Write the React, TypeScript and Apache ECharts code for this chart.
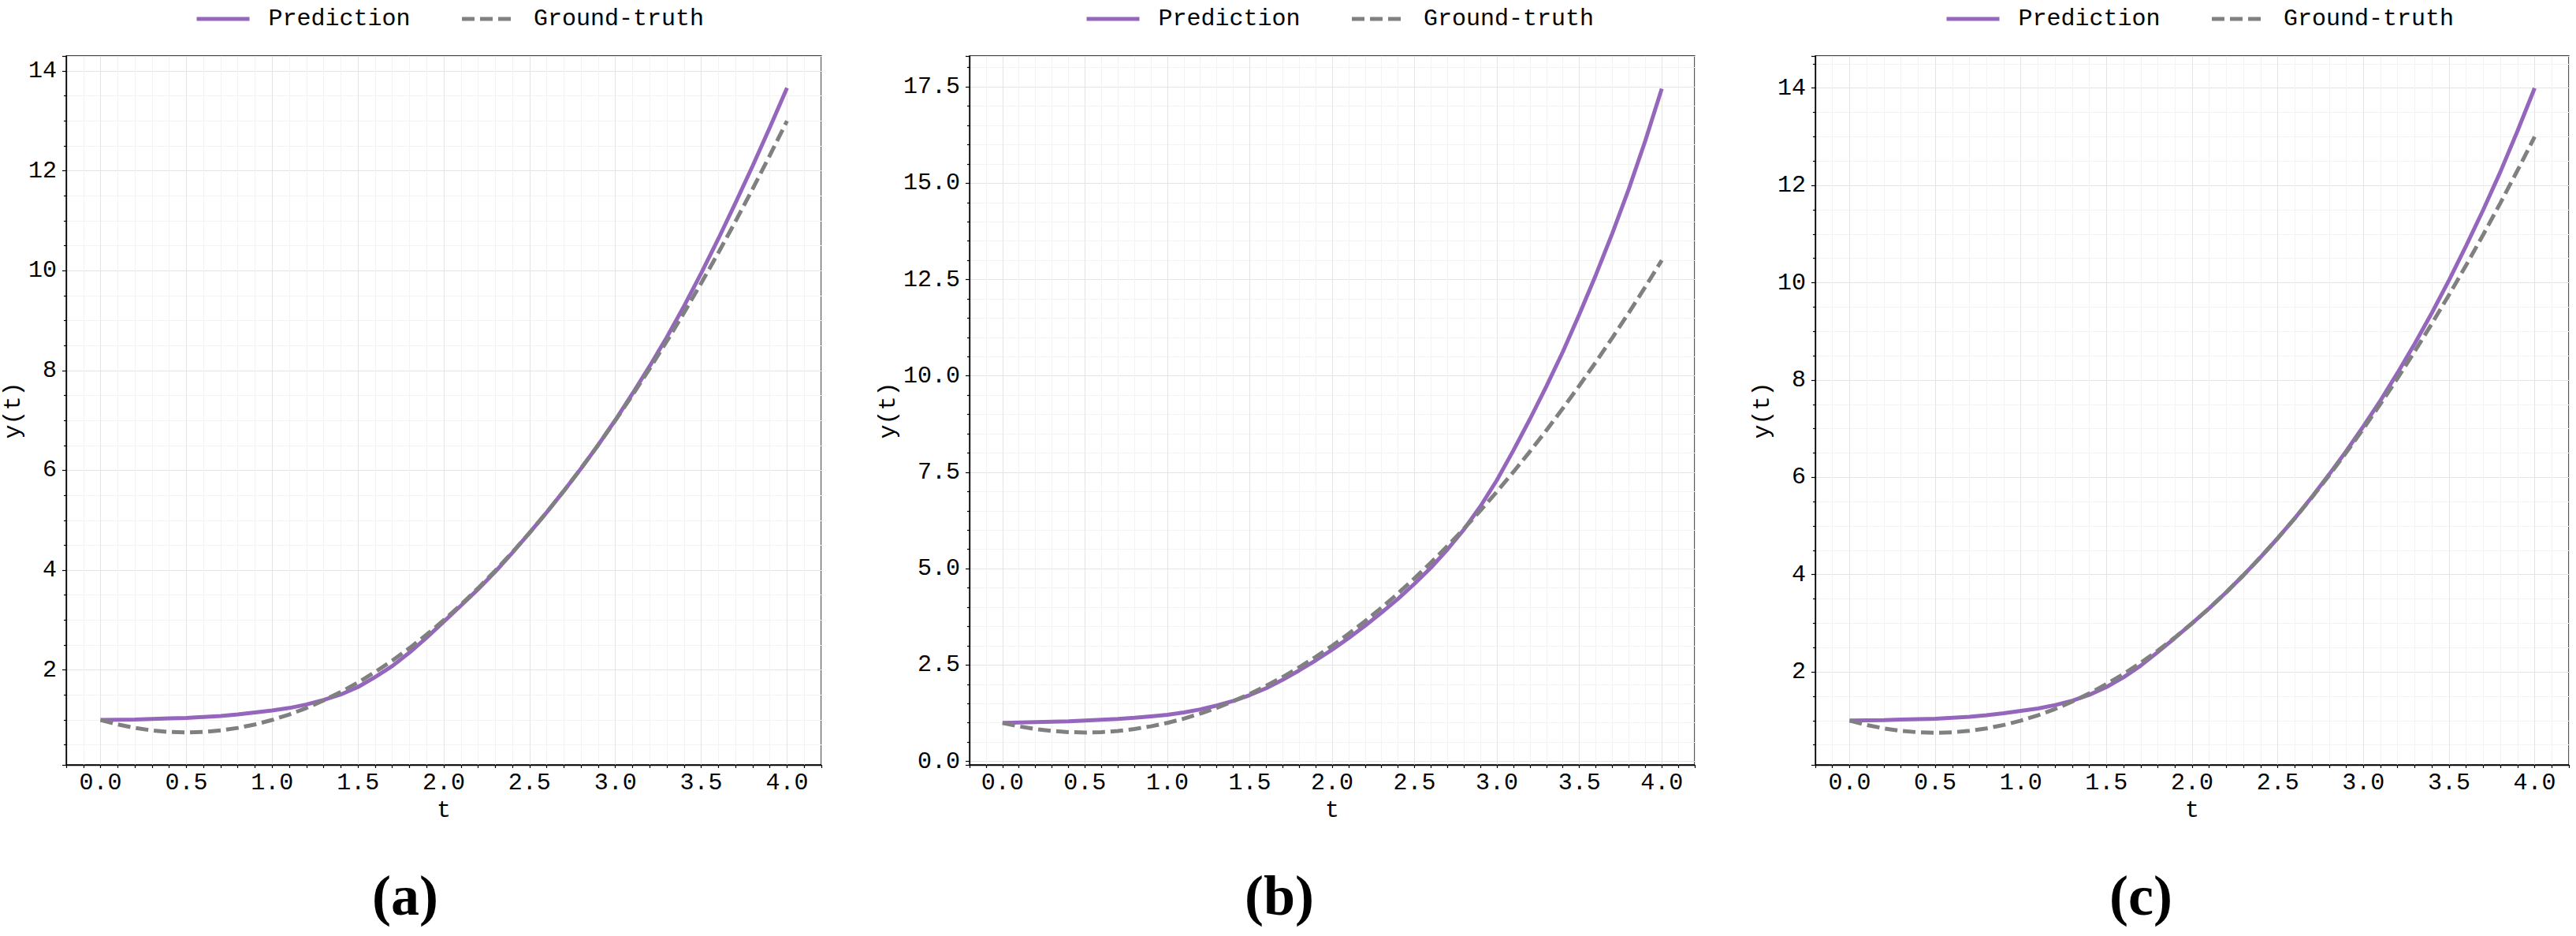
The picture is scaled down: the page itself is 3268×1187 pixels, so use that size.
import React, { useEffect, useRef } from "react";
import * as echarts from "echarts";

// ---- data ----
const T = [
  0.0, 0.1, 0.2, 0.3, 0.4, 0.5, 0.6, 0.7, 0.8, 0.9,
  1.0, 1.1, 1.2, 1.3, 1.4, 1.5, 1.6, 1.7, 1.8, 1.9,
  2.0, 2.1, 2.2, 2.3, 2.4, 2.5, 2.6, 2.7, 2.8, 2.9,
  3.0, 3.1, 3.2, 3.3, 3.4, 3.5, 3.6, 3.7, 3.8, 3.9, 4.0,
];

const GROUND_TRUTH = [
  1.0, 0.91, 0.84, 0.79, 0.76, 0.75, 0.76, 0.79, 0.84, 0.91,
  1.0, 1.11, 1.24, 1.39, 1.56, 1.75, 1.96, 2.19, 2.44, 2.71,
  3.0, 3.31, 3.64, 3.99, 4.36, 4.75, 5.16, 5.59, 6.04, 6.51,
  7.0, 7.51, 8.04, 8.59, 9.16, 9.75, 10.36, 10.99, 11.64, 12.31, 13.0,
];

const PRED_A = [
  1.0, 1.005, 1.01, 1.02, 1.03, 1.04, 1.06, 1.08, 1.11, 1.15,
  1.19, 1.24, 1.31, 1.4, 1.51, 1.66, 1.86, 2.08, 2.35, 2.65,
  2.97, 3.29, 3.62, 3.97, 4.35, 4.75, 5.16, 5.59, 6.04, 6.51,
  7.01, 7.54, 8.09, 8.67, 9.29, 9.95, 10.64, 11.36, 12.1, 12.87, 13.66,
];

const PRED_B = [
  1.0, 1.01, 1.02, 1.03, 1.04, 1.06, 1.08, 1.1, 1.13, 1.17,
  1.21, 1.27, 1.35, 1.45, 1.57, 1.72, 1.9, 2.12, 2.36, 2.62,
  2.9, 3.2, 3.52, 3.86, 4.22, 4.61, 5.03, 5.5, 6.02, 6.62,
  7.3, 8.07, 8.88, 9.73, 10.63, 11.6, 12.62, 13.7, 14.85, 16.1, 17.45,
];

const PRED_C = [
  1.0, 1.005, 1.01, 1.02, 1.03, 1.04, 1.06, 1.08, 1.11, 1.15,
  1.2, 1.25, 1.32, 1.41, 1.53, 1.69, 1.89, 2.13, 2.41, 2.7,
  3.0, 3.31, 3.64, 3.99, 4.36, 4.75, 5.16, 5.6, 6.06, 6.54,
  7.05, 7.58, 8.15, 8.75, 9.38, 10.05, 10.76, 11.5, 12.28, 13.12, 14.0,
];

const SERIES_NAMES = ["Prediction", "Ground-truth"];
const PANEL_LABELS = ["(a)", "(b)", "(c)"];
const X_NAME = "t";
const Y_NAME = "y(t)";

// ---- layout / style ----
const W = 3268;
const H = 1187;
const MONO = '"Liberation Mono", "DejaVu Sans Mono", monospace';
const SERIF = '"Liberation Serif", "DejaVu Serif", serif';
const PURPLE = "#9467bd";
const GRAY = "#808080";
const GRID_TOP = 71;
const GRID_H = 899;
const LINE_W = 5;

const PANELS = [
  { pred: PRED_A, yMin: 0.1, yMax: 14.3, yStep: 2, yMinor: 4, yDec: 0, left: 84, width: 958, legendLeft: 242, yNameGap: 47, labelX: 514 },
  { pred: PRED_B, yMin: -0.09, yMax: 18.3, yStep: 2.5, yMinor: 5, yDec: 1, left: 1230, width: 920, legendLeft: 1371, yNameGap: 85, labelX: 1623 },
  { pred: PRED_C, yMin: 0.09, yMax: 14.66, yStep: 2, yMinor: 4, yDec: 0, left: 2303, width: 956, legendLeft: 2462, yNameGap: 48, labelX: 2716 },
];

export default function App() {
  const ref = useRef<HTMLDivElement>(null);

  useEffect(() => {
    if (!ref.current) return;
    const chart = echarts.init(ref.current, null, { renderer: "svg" });

    const grid = PANELS.map((p) => ({
      left: p.left,
      top: GRID_TOP,
      width: p.width,
      height: GRID_H,
      show: true,
      borderColor: "#000",
      borderWidth: 1.3,
      backgroundColor: "transparent",
      containLabel: false,
    }));

    const xAxis = PANELS.map((p, i) => ({
      type: "value",
      gridIndex: i,
      min: -0.2,
      max: 4.2,
      splitNumber: 9,
      minInterval: 0.5,
      maxInterval: 0.5,
      name: X_NAME,
      nameLocation: "middle",
      nameGap: 35,
      nameTextStyle: { fontFamily: MONO, fontSize: 30, color: "#000" },
      axisLine: { show: true, onZero: false, lineStyle: { color: "#000", width: 1.3 } },
      axisTick: { show: true, length: 4, lineStyle: { color: "#000", width: 1.2 } },
      minorTick: { show: true, splitNumber: 5, length: 4, lineStyle: { color: "#000", width: 1.2 } },
      axisLabel: {
        showMinLabel: false,
        showMaxLabel: false,
        margin: 8,
        fontFamily: MONO,
        fontSize: 30,
        color: "#000",
        formatter: (v: number) => v.toFixed(1),
      },
      splitLine: { show: true, lineStyle: { color: "#e4e4e4", width: 1 } },
      minorSplitLine: { show: true, lineStyle: { color: "#f3f3f3", width: 1 } },
    }));

    const yAxis = PANELS.map((p, i) => ({
      type: "value",
      gridIndex: i,
      min: p.yMin,
      max: p.yMax,
      minInterval: p.yStep,
      maxInterval: p.yStep,
      splitNumber: 7,
      name: Y_NAME,
      nameLocation: "middle",
      nameGap: p.yNameGap,
      nameTextStyle: { fontFamily: MONO, fontSize: 30, color: "#000" },
      axisLine: { show: true, onZero: false, lineStyle: { color: "#000", width: 1.3 } },
      axisTick: { show: true, length: 5, lineStyle: { color: "#000", width: 1.2 } },
      minorTick: { show: true, splitNumber: p.yMinor, length: 3, lineStyle: { color: "#000", width: 1.2 } },
      axisLabel: {
        showMinLabel: false,
        showMaxLabel: false,
        margin: 12,
        fontFamily: MONO,
        fontSize: 30,
        color: "#000",
        formatter: (v: number) => v.toFixed(p.yDec),
      },
      splitLine: { show: true, lineStyle: { color: "#e4e4e4", width: 1 } },
      minorSplitLine: { show: true, lineStyle: { color: "#f3f3f3", width: 1 } },
    }));

    const legend = PANELS.map((p) => ({
      left: p.legendLeft,
      top: 4,
      orient: "horizontal",
      itemWidth: 67,
      itemHeight: 14,
      itemGap: 63,
      selectedMode: false,
      data: SERIES_NAMES,
      formatter: "{n|{name}}",
      itemStyle: { color: "transparent", borderColor: "transparent", borderWidth: 0, opacity: 0 },
      lineStyle: { width: LINE_W, cap: "butt" },
      textStyle: {
        fontFamily: MONO,
        fontSize: 30,
        color: "#000",
        rich: { n: { fontFamily: MONO, fontSize: 30, color: "#000", padding: [0, 0, 0, 19] } },
      },
    }));

    const series: any[] = [];
    PANELS.forEach((p, i) => {
      series.push({
        type: "line",
        name: SERIES_NAMES[0],
        xAxisIndex: i,
        yAxisIndex: i,
        data: T.map((t, k) => [t, p.pred[k]]),
        symbol: "none",
        showSymbol: false,
        lineStyle: { color: PURPLE, width: LINE_W },
        itemStyle: { color: PURPLE },
        z: 2,
      });
      series.push({
        type: "line",
        name: SERIES_NAMES[1],
        xAxisIndex: i,
        yAxisIndex: i,
        data: T.map((t, k) => [t, GROUND_TRUTH[k]]),
        symbol: "none",
        showSymbol: false,
        lineStyle: { color: GRAY, width: LINE_W, type: [16, 7] },
        itemStyle: { color: GRAY },
        z: 3,
      });
    });

    const graphic = PANELS.map((p, i) => ({
      type: "text",
      x: p.labelX,
      y: 1136,
      style: {
        text: PANEL_LABELS[i],
        fontFamily: SERIF,
        fontWeight: "bold",
        fontSize: 72,
        fill: "#000",
        align: "center",
        verticalAlign: "middle",
      },
    }));

    chart.setOption({
      animation: false,
      backgroundColor: "#fff",
      grid,
      xAxis,
      yAxis,
      legend,
      series,
      graphic,
    });

    return () => chart.dispose();
  }, []);

  return (
    <div
      ref={ref}
      style={{ position: "absolute", left: 0, top: 0, width: W, height: H, background: "#fff" }}
    />
  );
}
